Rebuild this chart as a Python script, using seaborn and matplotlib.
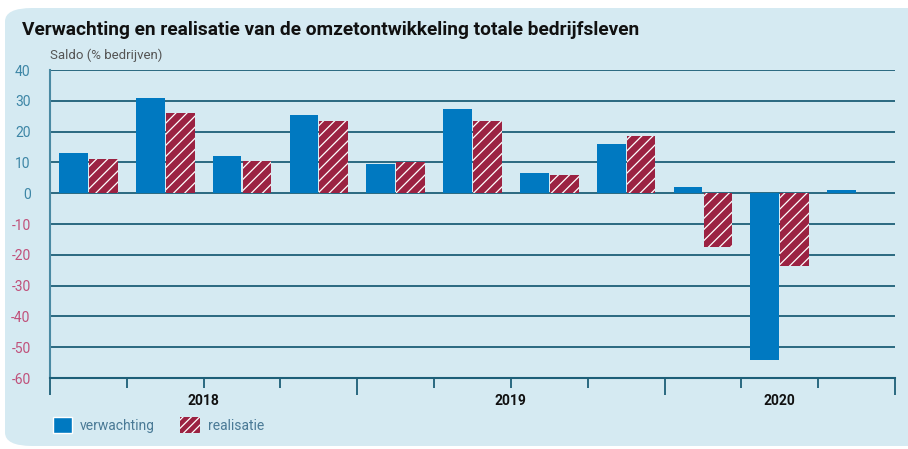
import numpy as np
import pandas as pd
import seaborn as sns
import matplotlib.pyplot as plt
import matplotlib.patches as mpatches

# quarters: 2018 Q1..Q4, 2019 Q1..Q4, 2020 Q1..Q3
quarters = ["2018K1", "2018K2", "2018K3", "2018K4",
            "2019K1", "2019K2", "2019K3", "2019K4",
            "2020K1", "2020K2", "2020K3"]
verwachting = [13, 31, 12, 25.5, 9.5, 27.5, 6.5, 16, 2, -54, 1]
realisatie = [11, 26, 10.5, 23.5, 10, 23.5, 6, 18.5, -17.5, -23.5, np.nan]
years = ["2018", "2019", "2020"]
year_bounds = [-0.5, 3.5, 7.5, 10.5]
y_ticks = [40, 30, 20, 10, 0, -10, -20, -30, -40, -50, -60]

BLUE = "#0079c1"
RED = "#9b2242"
BG = "#d5eaf2"
GRID = "#1d5f78"
POS = "#3d86a6"
NEG = "#c0507a"

df = pd.DataFrame({
    "kwartaal": quarters * 2,
    "saldo": verwachting + realisatie,
    "reeks": ["verwachting"] * len(quarters) + ["realisatie"] * len(quarters),
})

sns.set_style("white")
plt.rcParams["font.family"] = ["Roboto", "DejaVu Sans"]
plt.rcParams["hatch.linewidth"] = 0.9

fig = plt.figure(figsize=(9.08, 4.49), dpi=100, facecolor="white")
panel = mpatches.FancyBboxPatch((5 / 908, 3 / 449), 1.2, 1 - 11 / 449,
                                boxstyle="round,pad=0,rounding_size=0.03",
                                transform=fig.transFigure, facecolor=BG,
                                edgecolor="none", zorder=-5)
fig.patches.append(panel)

ax = fig.add_axes([50 / 908, 1 - 378 / 449, 845 / 908, 308 / 449])
ax.set_facecolor("none")
ax.set_zorder(2)

sns.barplot(data=df, x="kwartaal", y="saldo", hue="reeks", order=quarters,
            hue_order=["verwachting", "realisatie"],
            palette={"verwachting": BLUE, "realisatie": RED},
            saturation=1, width=0.78, gap=0.04, errorbar=None, legend=False,
            linewidth=0, ax=ax, zorder=3)

n = len(quarters)
for i, bar in enumerate(ax.patches):
    if i >= n:
        bar.set_hatch("///")
        bar.set_edgecolor("white")
        bar.set_linewidth(0)

ax.set_ylim(-60, 40)
ax.set_xlim(-0.5, 10.5)
ax.set_yticks(y_ticks)
ax.set_yticklabels([str(t) for t in y_ticks])
for lbl, t in zip(ax.get_yticklabels(), y_ticks):
    lbl.set_color(POS if t >= 0 else NEG)
    lbl.set_fontsize(10)
ax.tick_params(axis="y", length=0, pad=14)

for t in y_ticks[:-1]:
    ax.axhline(t, color=GRID, lw=1.3, zorder=2)

for s in ["top", "right"]:
    ax.spines[s].set_visible(False)
ax.spines["left"].set_color("#4a8aa3")
ax.spines["left"].set_linewidth(1.5)
ax.spines["bottom"].set_color(GRID)
ax.spines["bottom"].set_linewidth(1.5)

# x axis: ticks on quarter boundaries, year labels centred
ax.set_xticks(year_bounds)
ax.set_xticklabels([])
ax.set_xticks(np.arange(-0.5, 11, 1), minor=True)
ax.tick_params(axis="x", which="both", bottom=True, direction="out")
ax.tick_params(axis="x", which="major", length=12, width=1.3, color=GRID)
ax.tick_params(axis="x", which="minor", length=7, width=1.3, color=GRID)
ax.set_xlabel("")
ax.set_ylabel("")
for yr, a, b in zip(years, year_bounds[:-1], year_bounds[1:]):
    ax.text((a + b) / 2, -67.5, yr, ha="center", va="center",
            fontsize=10, fontweight="bold", color="#111111")

fig.text(22 / 908, 1 - 30 / 449,
         "Verwachting en realisatie van de omzetontwikkeling totale bedrijfsleven",
         fontsize=13.8, fontweight="bold", color="#111111", va="center")
fig.text(50 / 908, 1 - 55 / 449, "Saldo (% bedrijven)", fontsize=9.5,
         color="#555555", va="center")

handles = [mpatches.Patch(facecolor=BLUE, label="verwachting"),
           mpatches.Patch(facecolor=RED, edgecolor="white", linewidth=0,
                          hatch="////", label="realisatie")]
leg = fig.legend(handles=handles, loc="center left",
                 bbox_to_anchor=(40 / 908, 1 - 425 / 449), ncol=2,
                 frameon=False, fontsize=10, handlelength=1.4,
                 handleheight=1.5, columnspacing=1.8, handletextpad=0.6)
for t in leg.get_texts():
    t.set_color("#4a7a96")

fig.savefig("out.png", dpi=100)
